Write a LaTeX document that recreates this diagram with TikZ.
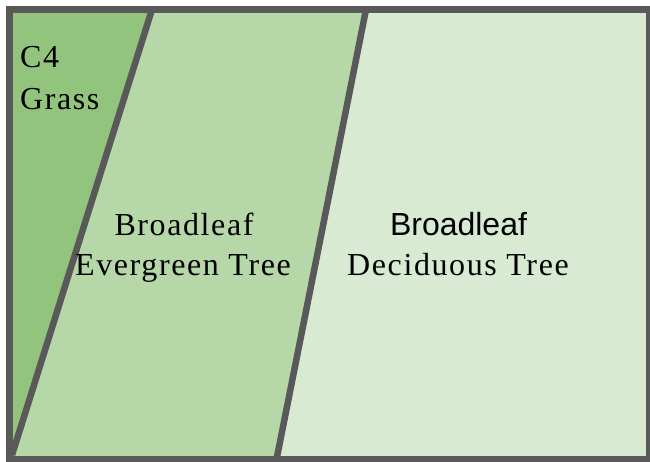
\documentclass[tikz,border=0pt]{standalone}
\usepackage{fontspec}
\setmainfont{Liberation Serif}
\newfontfamily\spacedserif[LetterSpace=5]{Liberation Serif}
\newfontfamily\arialfont{Liberation Sans}
\definecolor{darkgr}{HTML}{93C47D}
\definecolor{midgr}{HTML}{B6D7A8}
\definecolor{lightgr}{HTML}{D9EAD3}
\definecolor{edgegray}{HTML}{595959}
\begin{document}
\begin{tikzpicture}[x=1pt,y=-1pt,
  edge/.style={draw=edgegray,line width=6.5pt},
  lbl/.style={inner sep=0pt,font=\fontsize{32}{40}\selectfont\spacedserif},
  lblsans/.style={inner sep=0pt,font=\fontsize{32}{40}\selectfont\arialfont}]
\useasboundingbox (0,0) rectangle (650,461);
% regions
\fill[lightgr] (9.5,9.5) rectangle (649.5,459.5);
\fill[midgr] (9.5,9.5) -- (366,9.5) -- (276.5,459.5) -- (9.5,459.5) -- cycle;
\fill[darkgr] (9.5,9.5) -- (152,9.5) -- (12,455) -- (9.5,459.5) -- cycle;
% dividers
\coordinate (a1) at (152,9.5);
\coordinate (a2) at (12,455);
\coordinate (b1) at (366,9.5);
\coordinate (b2) at (276.5,459.5);
\draw[edge] (a1) -- (a2);
\draw[edge] (b1) -- (b2);
\draw[edge] (9.5,9.5) rectangle (649.5,459.5);
% labels
\node[lbl,anchor=base west] (c4) at (20,67) {C4};
\node[lbl,anchor=base west] (grass) at (20,109) {Grass};
\node[lbl,anchor=base] (bl1) at (184,235) {Broadleaf};
\node[lbl,anchor=base] (ev) at (183,275) {Evergreen Tree};
\node[lblsans,anchor=base] (bl2) at (458.5,235) {Broadleaf};
\node[lbl,anchor=base] (dec) at (458,275) {Deciduous Tree};
\end{tikzpicture}
\end{document}
